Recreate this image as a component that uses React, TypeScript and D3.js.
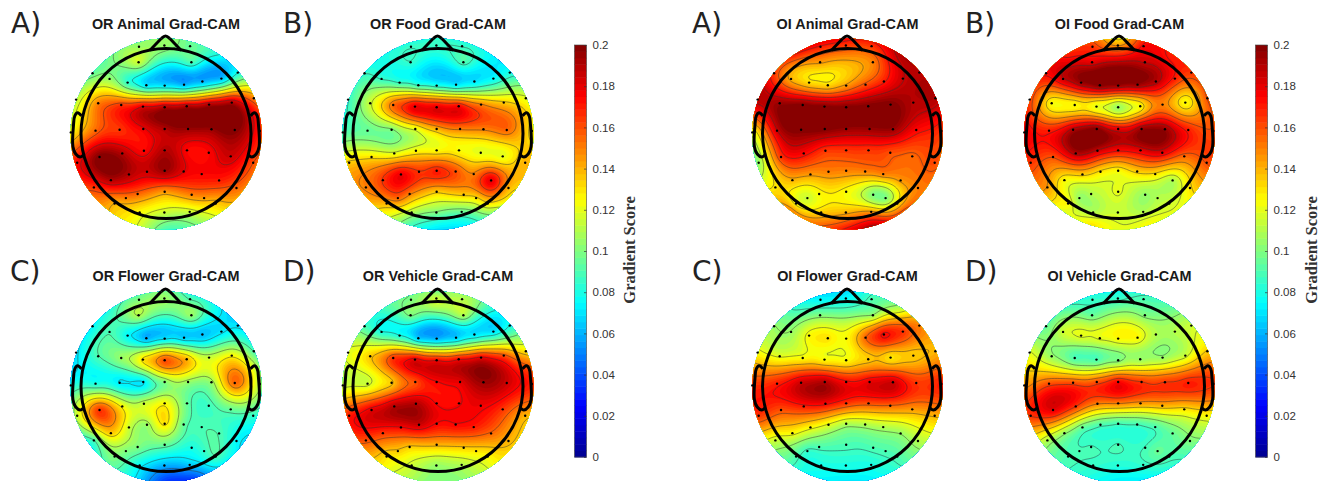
// App.tsx - EEG Grad-CAM topographic maps
import React, { useEffect, useRef } from 'react';
import * as d3 from 'd3';

// Electrode positions in head units (disk radius = 1), y pointing down
const ELECTRODE_X = [
  -0.283, -0.017, 0.252,
  -0.287, 0.266,
  -0.769, -0.591, -0.402, -0.206, -0.014, 0.189, 0.381, 0.58, 0.752,
  -0.941, -0.71, -0.469, -0.241, -0.014, 0.217, 0.451, 0.689, 0.92,
  -0.997, -0.738, -0.486, -0.238, -0.014, 0.231, 0.476, 0.72, 0.983,
  -0.93, -0.696, -0.458, -0.231, -0.014, 0.22, 0.448, 0.678, 0.913,
  -0.755, -0.577, -0.388, -0.199, -0.014, 0.185, 0.374, 0.556, 0.738,
  -0.538, -0.42, -0.297, -0.014, 0.269, 0.399, 0.521,
  -0.276, -0.017, 0.248,
];
const ELECTRODE_Y = [
  -0.913, -0.927, -0.92,
  -0.752, -0.752,
  -0.636, -0.577, -0.538, -0.51, -0.507, -0.517, -0.549, -0.58, -0.643,
  -0.36, -0.322, -0.304, -0.287, -0.28, -0.29, -0.308, -0.329, -0.374,
  -0.017, -0.035, -0.045, -0.052, -0.052, -0.052, -0.049, -0.042, -0.031,
  0.301, 0.241, 0.203, 0.175, 0.171, 0.171, 0.196, 0.234, 0.301,
  0.559, 0.483, 0.423, 0.395, 0.385, 0.392, 0.42, 0.486, 0.566,
  0.727, 0.671, 0.629, 0.605, 0.636, 0.671, 0.727,
  0.822, 0.822, 0.815,
];
// Extra samples read off the rim, no electrode is drawn for these
const RIM_X = [-0.55, 0, 0.55, -0.6, -0.3, 0, 0.3, 0.6];
const RIM_Y = [-0.83, -1, -0.83, 0.8, 0.95, 1, 0.95, 0.8];

// Scores per electrode, then the 8 rim samples
const OR_ANIMAL = [
  0.105, 0.105, 0.095,
  0.115, 0.09,
  0.095, 0.105, 0.085, 0.07, 0.07, 0.06, 0.06, 0.062, 0.08,
  0.112, 0.15, 0.165, 0.18, 0.19, 0.19, 0.19, 0.19, 0.15,
  0.125, 0.155, 0.165, 0.178, 0.19, 0.195, 0.195, 0.2, 0.17,
  0.175, 0.2, 0.19, 0.175, 0.19, 0.175, 0.175, 0.185, 0.16,
  0.165, 0.19, 0.19, 0.185, 0.195, 0.18, 0.175, 0.17, 0.155,
  0.14, 0.15, 0.155, 0.145, 0.15, 0.145, 0.135,
  0.125, 0.115, 0.115,
  0.1, 0.105, 0.08, 0.14, 0.12, 0.09, 0.1, 0.13,
];
const OR_FOOD = [
  0.085, 0.085, 0.085,
  0.085, 0.09,
  0.085, 0.085, 0.085, 0.085, 0.08, 0.07, 0.07, 0.075, 0.08,
  0.085, 0.115, 0.155, 0.18, 0.18, 0.175, 0.15, 0.135, 0.12,
  0.09, 0.095, 0.1, 0.12, 0.14, 0.15, 0.15, 0.155, 0.13,
  0.135, 0.13, 0.12, 0.125, 0.125, 0.125, 0.12, 0.12, 0.14,
  0.15, 0.165, 0.178, 0.165, 0.17, 0.16, 0.15, 0.18, 0.14,
  0.14, 0.155, 0.15, 0.135, 0.135, 0.13, 0.13,
  0.11, 0.1, 0.095,
  0.08, 0.085, 0.075, 0.13, 0.09, 0.07, 0.075, 0.11,
];
const OR_FLOWER = [
  0.1, 0.105, 0.09,
  0.11, 0.105,
  0.075, 0.09, 0.075, 0.06, 0.07, 0.065, 0.062, 0.07, 0.07,
  0.07, 0.09, 0.105, 0.13, 0.16, 0.14, 0.115, 0.125, 0.09,
  0.08, 0.08, 0.072, 0.072, 0.1, 0.105, 0.105, 0.155, 0.11,
  0.115, 0.165, 0.125, 0.115, 0.125, 0.095, 0.087, 0.095, 0.085,
  0.09, 0.135, 0.115, 0.105, 0.13, 0.095, 0.09, 0.09, 0.075,
  0.1, 0.1, 0.1, 0.095, 0.08, 0.085, 0.09,
  0.075, 0.06, 0.065,
  0.085, 0.1, 0.075, 0.095, 0.07, 0.035, 0.04, 0.075,
];
const OR_VEHICLE = [
  0.1, 0.115, 0.11,
  0.1, 0.11,
  0.09, 0.08, 0.08, 0.065, 0.06, 0.065, 0.07, 0.07, 0.08,
  0.12, 0.135, 0.165, 0.18, 0.175, 0.175, 0.178, 0.16, 0.13,
  0.115, 0.115, 0.135, 0.16, 0.175, 0.18, 0.195, 0.185, 0.17,
  0.17, 0.18, 0.19, 0.19, 0.175, 0.175, 0.178, 0.165, 0.14,
  0.16, 0.165, 0.175, 0.185, 0.175, 0.175, 0.17, 0.155, 0.14,
  0.13, 0.135, 0.135, 0.14, 0.135, 0.13, 0.125,
  0.115, 0.105, 0.11,
  0.09, 0.1, 0.085, 0.13, 0.11, 0.1, 0.105, 0.125,
];
const OI_ANIMAL = [
  0.17, 0.165, 0.165,
  0.145, 0.15,
  0.165, 0.14, 0.132, 0.133, 0.145, 0.16, 0.17, 0.185, 0.19,
  0.19, 0.195, 0.2, 0.2, 0.2, 0.2, 0.2, 0.19, 0.19,
  0.12, 0.185, 0.2, 0.2, 0.195, 0.195, 0.195, 0.175, 0.165,
  0.105, 0.165, 0.175, 0.165, 0.165, 0.165, 0.16, 0.155, 0.16,
  0.13, 0.14, 0.145, 0.15, 0.15, 0.15, 0.15, 0.145, 0.15,
  0.125, 0.115, 0.125, 0.125, 0.1, 0.1, 0.13,
  0.135, 0.14, 0.145,
  0.17, 0.175, 0.19, 0.15, 0.155, 0.175, 0.185, 0.16,
];
const OI_FOOD = [
  0.165, 0.145, 0.175,
  0.18, 0.185,
  0.175, 0.185, 0.195, 0.2, 0.195, 0.195, 0.19, 0.17, 0.165,
  0.165, 0.125, 0.125, 0.12, 0.105, 0.125, 0.15, 0.125, 0.16,
  0.18, 0.17, 0.19, 0.2, 0.18, 0.195, 0.195, 0.17, 0.16,
  0.165, 0.16, 0.19, 0.185, 0.175, 0.18, 0.18, 0.155, 0.16,
  0.145, 0.125, 0.135, 0.13, 0.125, 0.135, 0.13, 0.11, 0.13,
  0.125, 0.105, 0.11, 0.12, 0.105, 0.11, 0.115,
  0.11, 0.115, 0.11,
  0.17, 0.13, 0.17, 0.12, 0.13, 0.12, 0.125, 0.12,
];
const OI_FLOWER = [
  0.075, 0.075, 0.09,
  0.1, 0.105,
  0.105, 0.105, 0.125, 0.13, 0.125, 0.155, 0.175, 0.165, 0.15,
  0.125, 0.12, 0.125, 0.125, 0.125, 0.135, 0.13, 0.135, 0.14,
  0.165, 0.17, 0.185, 0.19, 0.175, 0.18, 0.185, 0.165, 0.17,
  0.165, 0.16, 0.17, 0.175, 0.165, 0.16, 0.155, 0.145, 0.14,
  0.115, 0.125, 0.125, 0.12, 0.11, 0.11, 0.11, 0.105, 0.11,
  0.09, 0.085, 0.09, 0.09, 0.09, 0.09, 0.09,
  0.08, 0.08, 0.08,
  0.085, 0.07, 0.11, 0.09, 0.075, 0.07, 0.075, 0.09,
];
const OI_VEHICLE = [
  0.085, 0.085, 0.09,
  0.095, 0.1,
  0.095, 0.115, 0.12, 0.12, 0.125, 0.125, 0.11, 0.11, 0.115,
  0.12, 0.105, 0.09, 0.09, 0.1, 0.105, 0.105, 0.115, 0.135,
  0.145, 0.16, 0.16, 0.16, 0.175, 0.165, 0.165, 0.17, 0.165,
  0.165, 0.18, 0.165, 0.15, 0.15, 0.145, 0.14, 0.13, 0.125,
  0.11, 0.105, 0.095, 0.09, 0.088, 0.088, 0.09, 0.095, 0.1,
  0.09, 0.088, 0.088, 0.088, 0.088, 0.095, 0.09,
  0.085, 0.082, 0.085,
  0.09, 0.08, 0.095, 0.09, 0.08, 0.072, 0.075, 0.085,
];

const TITLES = [
  'OR Animal Grad-CAM', 'OR Food Grad-CAM', 'OR Flower Grad-CAM', 'OR Vehicle Grad-CAM',
  'OI Animal Grad-CAM', 'OI Food Grad-CAM', 'OI Flower Grad-CAM', 'OI Vehicle Grad-CAM',
];
const PANEL_LABELS = ['A)', 'B)', 'C)', 'D)', 'A)', 'B)', 'C)', 'D)'];
const MAP_VALUES = [OR_ANIMAL, OR_FOOD, OR_FLOWER, OR_VEHICLE, OI_ANIMAL, OI_FOOD, OI_FLOWER, OI_VEHICLE];
const COLORBAR_TICKS = [0, 0.02, 0.04, 0.06, 0.08, 0.1, 0.12, 0.14, 0.16, 0.18, 0.2];

const jet = d3
  .scaleLinear<string>()
  .domain([0, 0.025, 0.075, 0.125, 0.175, 0.2])
  .range(['#00008f', '#0000ff', '#00ffff', '#ffff00', '#ff0000', '#800000'])
  .clamp(true);

const GRID = 128;

// Biharmonic spline (what griddata 'v4' does in EEGLAB's topoplot)
const green = (d: number) => (d < 1e-9 ? 0 : d * d * (Math.log(d) - 1));

const solve = (A: number[][], b: number[]) => {
  const n = b.length;
  const m = A.map((row, i) => [...row, b[i]]);
  for (let c = 0; c < n; c++) {
    let p = c;
    for (let r = c + 1; r < n; r++) if (Math.abs(m[r][c]) > Math.abs(m[p][c])) p = r;
    [m[c], m[p]] = [m[p], m[c]];
    for (let r = c + 1; r < n; r++) {
      const f = m[r][c] / m[c][c];
      for (let k = c; k <= n; k++) m[r][k] -= f * m[c][k];
    }
  }
  const x = new Array(n).fill(0);
  for (let r = n - 1; r >= 0; r--) {
    let s = m[r][n];
    for (let k = r + 1; k < n; k++) s -= m[r][k] * x[k];
    x[r] = s / m[r][r];
  }
  return x;
};

const fieldFrom = (values: number[]) => {
  const xs = [...ELECTRODE_X, ...RIM_X];
  const ys = [...ELECTRODE_Y, ...RIM_Y];
  const A = xs.map((x, i) => xs.map((x2, j) => green(Math.hypot(x - x2, ys[i] - ys[j]))));
  const w = solve(A, values);
  const out = new Float64Array(GRID * GRID);
  for (let j = 0; j < GRID; j++) {
    const v = ((j + 0.5) / GRID) * 2.1 - 1.05;
    for (let i = 0; i < GRID; i++) {
      const u = ((i + 0.5) / GRID) * 2.1 - 1.05;
      let s = 0;
      for (let k = 0; k < xs.length; k++) s += w[k] * green(Math.hypot(u - xs[k], v - ys[k]));
      out[j * GRID + i] = Math.min(0.2, Math.max(0, s));
    }
  }
  return out;
};

const App = () => {
  const svgRef = useRef<SVGSVGElement | null>(null);

  useEffect(() => {
    const svg = d3.select(svgRef.current);
    svg.selectAll('*').remove();

    // map centres: four per colorbar
    const centersX = [166, 438, 166, 438, 847.5, 1119.5, 847.5, 1119.5];
    const centersY = [134, 134, 387, 387, 134, 134, 387, 387];
    const labelX = [11, 283, 10, 283, 692, 965, 692, 965];
    const labelY = [33, 33, 281, 281, 33, 33, 281, 281];
    const titleY = [29, 29, 281, 281, 29, 29, 281, 281];
    const radius = 95.5;
    const headRadius = 85;

    const bandLevels = d3.range(0, 64).map((i) => (i / 64) * 0.2);

    MAP_VALUES.forEach((values, idx) => {
      const cx = centersX[idx];
      const cy = centersY[idx];
      const field = fieldFrom(values);

      const g = svg.append('g');
      const clipId = `disk-${idx}`;
      g.append('clipPath').attr('id', clipId).append('circle').attr('cx', cx).attr('cy', cy).attr('r', radius);

      // grid units to pixels
      const px = (radius * 2.1) / GRID;
      const path = d3.geoPath(d3.geoIdentity().scale(px).translate([cx - radius * 1.05, cy - radius * 1.05]) as any);

      const maps = g.append('g').attr('clip-path', `url(#${clipId})`);
      const contours = d3.contours().size([GRID, GRID]);
      const data = field as unknown as number[];

      bandLevels.forEach((level) => {
        maps
          .append('path')
          .attr('d', path(contours.contour(data, level)) || '')
          .attr('fill', jet(level + 0.2 / 128));
      });

      // iso lines, evenly spaced between the map's extremes
      const lo = d3.min(values) as number;
      const hi = d3.max(values) as number;
      d3.range(1, 7).forEach((i) => {
        maps
          .append('path')
          .attr('d', path(contours.contour(data, lo + ((hi - lo) * i) / 7)) || '')
          .attr('fill', 'none')
          .attr('stroke', '#333')
          .attr('stroke-opacity', 0.75)
          .attr('stroke-width', 0.65);
      });

      // electrodes
      const sx = d3.scaleLinear().domain([-1, 1]).range([cx - radius, cx + radius]);
      const sy = d3.scaleLinear().domain([-1, 1]).range([cy - radius, cy + radius]);
      g.selectAll('.dot')
        .data(ELECTRODE_X)
        .enter()
        .append('circle')
        .attr('class', 'dot')
        .attr('cx', (d) => sx(d))
        .attr('cy', (_, i) => sy(ELECTRODE_Y[i]))
        .attr('r', 1.2)
        .attr('fill', '#000');

      // head outline, nose, ears
      const head = g
        .append('g')
        .attr('fill', 'none')
        .attr('stroke', '#000')
        .attr('stroke-width', 3)
        .attr('stroke-linejoin', 'round');
      head.append('circle').attr('cx', cx).attr('cy', cy - 0.5).attr('r', headRadius);

      const outline = d3
        .line<number[]>()
        .x((d) => sx(d[0]))
        .y((d) => sy(d[1]))
        .curve(d3.curveCatmullRom.alpha(0.5));
      const straight = d3
        .line<number[]>()
        .x((d) => sx(d[0]))
        .y((d) => sy(d[1]));
      head.append('path').attr('d', straight([[-0.17, -0.875], [-0.05, -1.0]]) || '');
      head.append('path').attr('d', straight([[0.16, -0.875], [0.04, -1.0]]) || '');
      head.append('path').attr('d', outline([[-0.05, -1.0], [-0.005, -1.025], [0.04, -1.0]]) || '');
      const ear = [[-0.885, -0.19], [-0.925, -0.222], [-0.955, -0.19], [-0.968, -0.1], [-0.975, 0.13], [-0.945, 0.21], [-0.9, 0.24], [-0.865, 0.22]];
      head.append('path').attr('d', outline(ear) || '');
      head.append('path').attr('d', outline(ear.map((d) => [-d[0], d[1]])) || '');

      svg
        .append('text')
        .attr('x', cx)
        .attr('y', titleY[idx])
        .attr('text-anchor', 'middle')
        .style('font-family', '"Liberation Sans", Arial, sans-serif')
        .style('font-weight', 'bold')
        .style('font-size', '14.4px')
        .style('fill', '#1a1a1a')
        .text(TITLES[idx]);

      svg
        .append('text')
        .attr('x', labelX[idx])
        .attr('y', labelY[idx])
        .style('font-family', '"DejaVu Sans", sans-serif')
        .style('font-size', '28px')
        .style('fill', '#222')
        .text(PANEL_LABELS[idx]);
    });

    // colorbars
    const yScale = d3.scaleLinear().domain([0, 0.2]).range([457, 45]);
    [574.5, 1255.5].forEach((barX, b) => {
      const barW = 12;
      const bar = svg.append('g');
      d3.range(0, 64).forEach((i) => {
        const v0 = (i / 64) * 0.2;
        const v1 = ((i + 1) / 64) * 0.2;
        bar
          .append('rect')
          .attr('x', barX)
          .attr('y', yScale(v1))
          .attr('width', barW)
          .attr('height', yScale(v0) - yScale(v1) + 0.5)
          .attr('fill', jet((v0 + v1) / 2));
      });
      bar
        .append('rect')
        .attr('x', barX)
        .attr('y', 45)
        .attr('width', barW)
        .attr('height', 412)
        .attr('fill', 'none')
        .attr('stroke', '#444')
        .attr('stroke-width', 0.6);

      const axis = d3
        .axisRight(yScale)
        .tickValues(COLORBAR_TICKS)
        .tickSize(-2.5)
        .tickPadding(6)
        .tickFormat((d) => String(d));
      const ag = svg.append('g').attr('transform', `translate(${barX + barW},0)`).call(axis);
      ag.select('.domain').remove();
      ag.selectAll('line').attr('stroke', '#333').attr('stroke-width', 0.7);
      ag.selectAll('text')
        .style('font-family', '"Liberation Sans", Arial, sans-serif')
        .style('font-size', '11.5px')
        .style('fill', '#333');

      const labelPos = b === 0 ? 635 : 1317;
      svg
        .append('text')
        .attr('transform', `translate(${labelPos},250) rotate(-90)`)
        .attr('text-anchor', 'middle')
        .style('font-family', '"Liberation Serif", serif')
        .style('font-weight', 'bold')
        .style('font-size', '16.5px')
        .style('fill', '#333')
        .text('Gradient Score');
    });
  }, []);

  return (
    <svg
      ref={svgRef}
      width={1325}
      height={481}
      style={{ position: 'absolute', left: 0, top: 0, background: '#fff' }}
    />
  );
};

export default App;
